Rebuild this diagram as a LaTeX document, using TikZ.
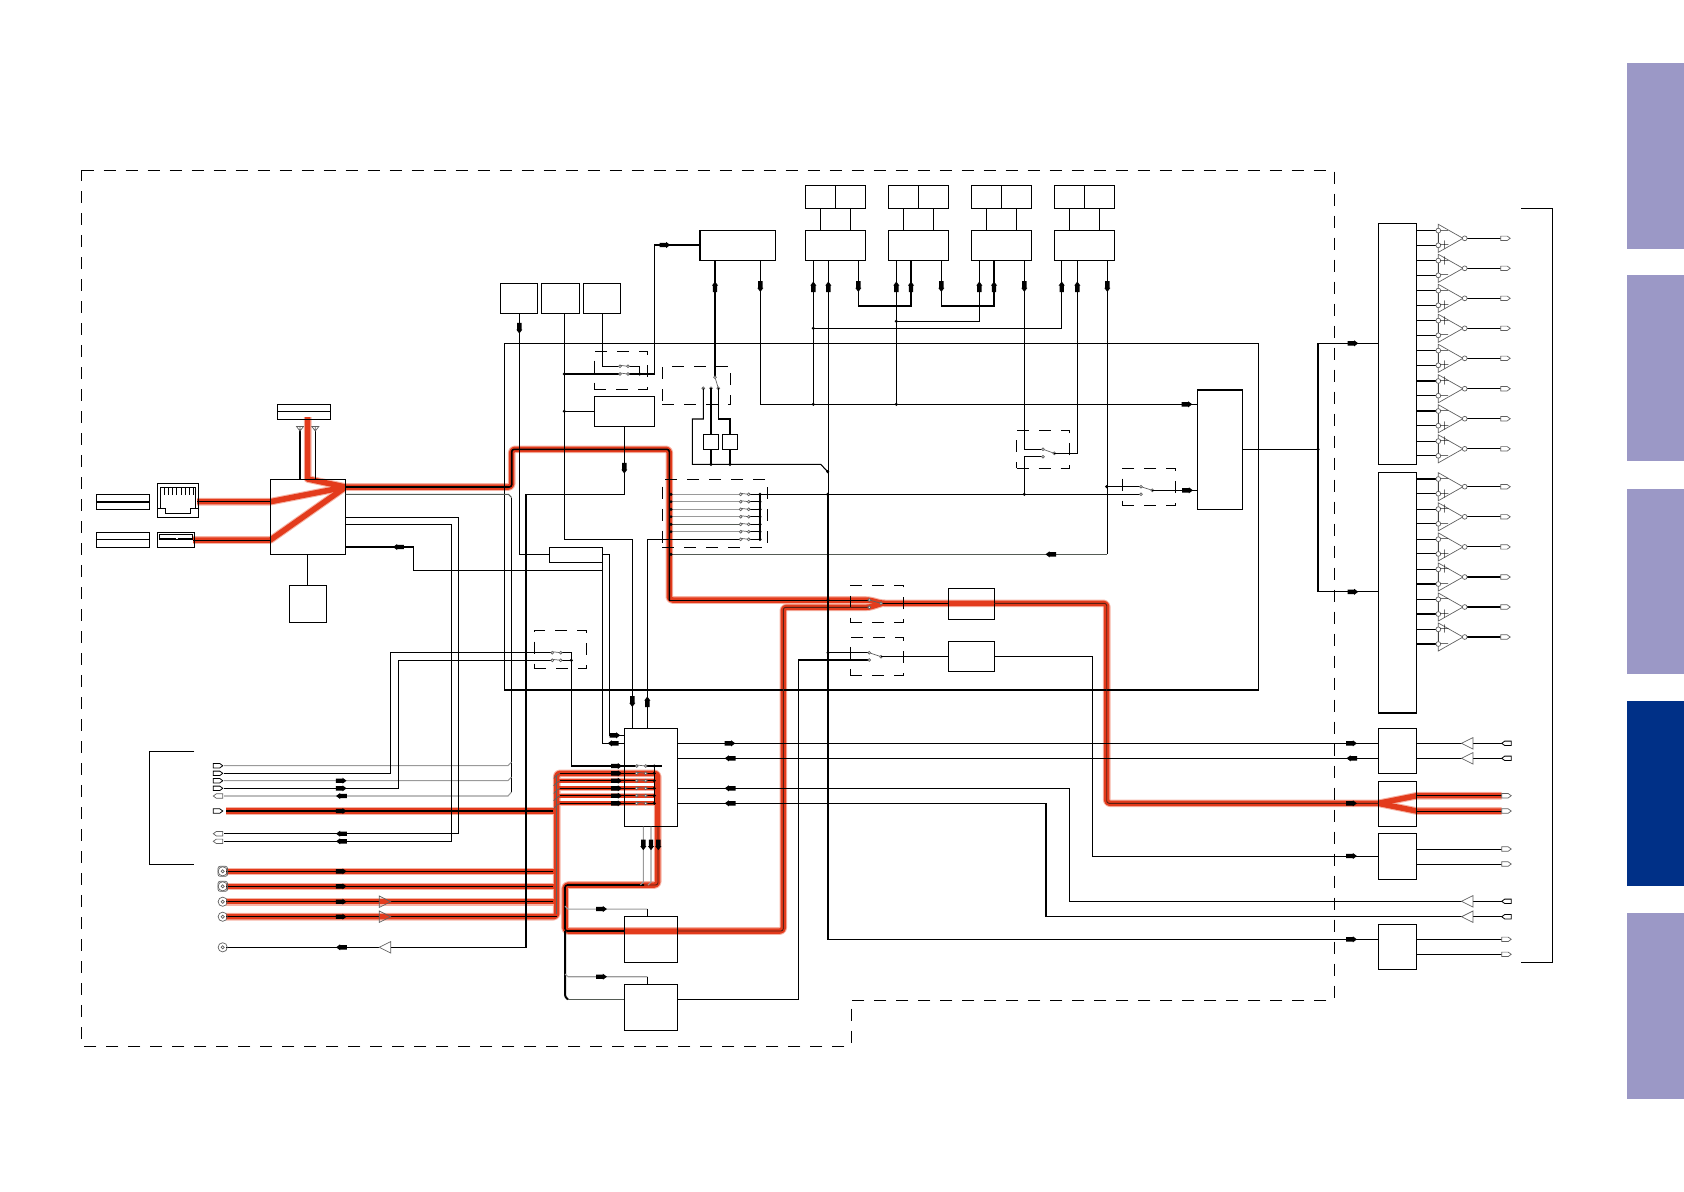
\documentclass[tikz,border=0pt]{standalone}
\pgfdeclarelayer{bg}
\pgfsetlayers{bg,main}
\definecolor{tabl}{HTML}{9B98C6}
\definecolor{tabd}{HTML}{003087}
\definecolor{redm}{HTML}{E33B1C}
\definecolor{redh}{HTML}{F6B4A6}
\definecolor{gl}{HTML}{9A9A9A}
\definecolor{gd}{HTML}{555B55}
\definecolor{gc}{HTML}{606060}
\definecolor{rc}{HTML}{5A1E12}
\tikzset{
 ln/.style={black,line width=1.05*0.5pt,line join=miter},
 lng/.style={gl,line width=1.05*0.5pt},
 lnd/.style={gd,line width=1.05*0.5pt},
 lnr/.style={rc,line width=0.9*0.5pt},
 core/.style={black,line width=1.6*0.5pt,rounded corners=1.2pt},
 boxy/.style={draw=black,line width=1.05*0.5pt,inner sep=0,outer sep=0,fill=none},
 dashy/.style={draw=black,line width=0.9*0.5pt,inner sep=0,outer sep=0,dash pattern=on 6pt off 5pt},
 thn/.style={gc,line width=0.7*0.5pt},
 thb/.style={black,line width=0.8*0.5pt},
 sgn/.style={inner sep=0,font=\fontsize{4}{4}\selectfont},
}
% boxes: [style]{name}{x1}{y1}{x2}{y2}
\newcommand\bx[6][boxy]{\node[#1,anchor=north west,minimum width={(#5-#3)*0.5pt},minimum height={(#6-#4)*0.5pt}] (#2) at (#3,#4) {};}
\newcommand\arR[2]{\fill[shift={(#1,#2)}] (-5.5,-2.2)--(1.2,-2.2)--(1.2,-3)--(5.2,0)--(1.2,3)--(1.2,2.2)--(-5.5,2.2)--cycle;}
\newcommand\arL[2]{\fill[shift={(#1,#2)}] (5.5,-2.2)--(-1.2,-2.2)--(-1.2,-3)--(-5.2,0)--(-1.2,3)--(-1.2,2.2)--(5.5,2.2)--cycle;}
\newcommand\arD[2]{\fill[shift={(#1,#2)}] (-2.2,-5.5)--(-2.2,1.2)--(-3,1.2)--(0,5.2)--(3,1.2)--(2.2,1.2)--(2.2,-5.5)--cycle;}
\newcommand\arU[2]{\fill[shift={(#1,#2)}] (-2.2,5.5)--(-2.2,-1.2)--(-3,-1.2)--(0,-5.2)--(3,-1.2)--(2.2,-1.2)--(2.2,5.5)--cycle;}
\newcommand\dt[2]{\fill (#1,#2) circle[radius=1.7];}
\newcommand\ct[2]{\draw[thn,fill=white] (#1,#2) circle[radius=1.4];}
\newcommand\pair[3]{\draw[thn] (#1,#3-1)--(#2,#3); \ct{#1}{#3}\ct{#2}{#3}}
\newcommand\plugR[3][thn]{\draw[#1,fill=white] (#2,#3-2.2)--(#2+6.5,#3-2.2)--(#2+9.5,#3)--(#2+6.5,#3+2.2)--(#2,#3+2.2)--cycle;}
\newcommand\plugL[3][thn]{\draw[#1,fill=white] (#2+9.5,#3-2.2)--(#2+3,#3-2.2)--(#2,#3)--(#2+3,#3+2.2)--(#2+9.5,#3+2.2)--cycle;}
\newcommand\triR[2]{\draw[thn] (#1,#2-5.7)--(#1+11.4,#2)--(#1,#2+5.7)--cycle;}
\newcommand\triL[2]{\draw[thn] (#1+11.4,#2-5.7)--(#1,#2)--(#1+11.4,#2+5.7)--cycle;}
\newcommand\bnc[2]{\draw[thn] (#1,#2) circle[radius=4.6]; \draw[thn] (#1,#2) circle[radius=1.6];}
% op amp: {box}{name}{centre y}{upper sign}{lower sign}
\newcommand\opamp[5]{%
 \draw[ln] (#1.east |- 0,#3-7.7)--(1438.3,#3-7.7);
 \draw[ln] (#1.east |- 0,#3+7)--(1438.3,#3+7);
 \draw[ln] (1438.3,#3-7.7)--(1438.3,#3+7);
 \draw[thn] (1438.3,#3-14)--(1463,#3)--(1438.3,#3+14)--cycle;
 \draw[thn,fill=white] (1438.3,#3-7.7) circle[radius=2.4];
 \draw[thn,fill=white] (1438.3,#3+7) circle[radius=2.4];
 \draw[ln] (1467,#3)--(1500.7,#3);
 \draw[thn,fill=white] (1464.7,#3) circle[radius=2.4];
 \node[sgn] (#2u) at (1444.5,#3-7.7) {#4};
 \node[sgn] (#2l) at (1444.5,#3+7) {#5};
 \plugR{1500.7}{#3}
}
\newcommand\redset{%
 \path[ropt] (307.7,417)--(307.7,479)--(345.7,487);
 \path[ropt] (197,501.7)--(270.3,501.7)--(345.7,487);
 \path[ropt] (193,540)--(270.3,540)--(345.7,487);
 \path[ropt,rounded corners=1.6pt] (345.7,487)--(511.7,487)--(511.7,449.3)--(669.3,449.3)--(669.3,600)--(869,600)--(882,603.3)--(1106.7,603.3)--(1106.7,803.3)--(1378.3,803.3);
 \path[ropt] (1378.3,803.3)--(1416.7,795.7)--(1501.7,795.7);
 \path[ropt] (1378.3,803.3)--(1416.7,811)--(1501.7,811);
 \path[ropt,rounded corners=1.6pt] (882,603.3)--(869,607.3)--(783.3,607.3)--(783.3,931)--(565,931)--(565,885)--(657.7,885)--(657.7,773.3)--(556.7,773.3)--(556.7,916.7)--(226,916.7);
 \path[ropt,line width=\rbw] (556.7,780.7)--(657.7,780.7);
 \path[ropt,line width=\rbw] (556.7,788.3)--(657.7,788.3);
 \path[ropt,line width=\rbw] (556.7,795.7)--(657.7,795.7);
 \path[ropt,line width=\rbw] (556.7,803.3)--(657.7,803.3);
 \path[ropt] (226,811)--(556.7,811);
 \path[ropt] (226,871.3)--(556.7,871.3);
 \path[ropt] (226,886.3)--(556.7,886.3);
 \path[ropt] (226,901.7)--(556.7,901.7);
}
\begin{document}
\begin{tikzpicture}[x=0.5pt,y=-0.5pt]
\useasboundingbox (0,0) rectangle (1684,1191);
% side tabs
\fill[tabl] (1627,63) rectangle (1684,249);
\fill[tabl] (1627,275) rectangle (1684,461);
\fill[tabl] (1627,489) rectangle (1684,674);
\fill[tabd] (1627,701) rectangle (1684,886);
\fill[tabl] (1627,913) rectangle (1684,1099);
% red signal path
\begin{pgfonlayer}{bg}
\def\rbw{2.6pt}
\tikzset{ropt/.style={draw=redh,line width=3.8pt,line join=round}}
\redset
\def\rbw{1.9pt}
\tikzset{ropt/.style={draw=redm,line width=2.75pt,line join=round}}
\redset
\end{pgfonlayer}
% outer dashed outline
\draw[ln,line width=0.9*0.5pt,dash pattern=on 6pt off 5pt] (81.6,170)--(1334,170)--(1334,1000)--(851,1000)--(851,1046)--(81.6,1046)--cycle;
% brackets
\draw[ln] (194.3,751.3)--(149.3,751.3)--(149.3,864.3)--(194.3,864.3);
\draw[ln] (1521.3,208.4)--(1552.3,208.4)--(1552.3,962.3)--(1521.3,962.3);
% boxes
\bx{big}{504.3}{343.5}{1258.7}{690}
\bx{la}{277.3}{404.3}{330.7}{419.3}
\draw[ln] (la.west |- 0,411.3)--(la.east |- 0,411.3);
\bx{lb}{96.3}{494.3}{149.7}{509.3}
\draw[ln] (lb.west |- 0,502)--(lb.east |- 0,502);
\bx{lc}{96.3}{532.3}{149.7}{547.3}
\draw[ln] (lc.west |- 0,539.5)--(lc.east |- 0,539.5);
\bx{rj}{157.3}{483.7}{198.5}{517.3}
\bx{usb}{157.3}{532.3}{194.7}{547.3}
\bx{main}{270.3}{479.3}{345.7}{554.3}
\bx{sm}{289.3}{585.3}{326.7}{622.7}
\bx{b1}{500.3}{283.3}{537.7}{313.3}
\bx{b2}{541.3}{283.3}{579.7}{313.3}
\bx{b3}{583.3}{283.3}{620.7}{313.3}
\bx{r1}{594.3}{396.3}{654.3}{426.3}
\bx{lbl}{549.3}{547.3}{602.7}{562.7}
\bx{g0}{700}{230.3}{775.5}{260.3}
\bx{ta1}{805.3}{185.3}{835.3}{208.3}\bx{tb1}{835.3}{185.3}{865.3}{208.3}\bx{g1}{805.3}{230.3}{865.3}{260.3}
\bx{ta2}{888.3}{185.3}{918.3}{208.3}\bx{tb2}{918.3}{185.3}{948.3}{208.3}\bx{g2}{888.3}{230.3}{948.3}{260.3}
\bx{ta3}{971.3}{185.3}{1001.5}{208.3}\bx{tb3}{1001.5}{185.3}{1031.7}{208.3}\bx{g3}{971.3}{230.3}{1031.7}{260.3}
\bx{ta4}{1054.3}{185.3}{1084.3}{208.3}\bx{tb4}{1084.3}{185.3}{1114.3}{208.3}\bx{g4}{1054.3}{230.3}{1114.3}{260.3}
\bx{k1}{703.3}{434.3}{718.7}{449.3}
\bx{k2}{722.3}{434.3}{737.7}{449.3}
\bx{end}{1197.3}{390}{1242.3}{509.3}
\bx{pa}{948.3}{588.3}{994.3}{619.3}
\bx{pb}{948.3}{641.3}{994.3}{671.3}
\bx{cen}{624.3}{728.3}{677.7}{826.7}
\bx{low1}{624.3}{916.3}{677.7}{962.3}
\bx{low2}{624.3}{984.3}{677.7}{1030.3}
\bx{a1}{1378.3}{223.3}{1416.7}{464.3}
\bx{a2}{1378.3}{472.3}{1416.7}{713}
\bx{c1}{1378.3}{728.3}{1416.7}{773.3}
\bx{c2}{1378.3}{781.3}{1416.7}{826.3}
\bx{c3}{1378.3}{833.3}{1416.7}{879.3}
\bx{c4}{1378.3}{924.3}{1416.7}{969.3}
% dashed switch frames
\bx[dashy]{d1}{594.3}{351.3}{647.7}{389.3}
\bx[dashy]{d2}{662.3}{366.3}{730.7}{404.7}
\bx[dashy]{d3}{662.3}{479.3}{767.7}{547.3}
\bx[dashy]{d4}{1016.7}{430.3}{1069.7}{468.3}
\bx[dashy]{d5}{1122.3}{468.3}{1175.7}{505.3}
\bx[dashy]{d6}{850.3}{585}{903.3}{622.3}
\bx[dashy]{d7}{850.3}{637.3}{903.3}{675.7}
\bx[dashy]{d8}{534.3}{630.3}{586.7}{668.3}
% RJ45 and USB details
\draw[ln,line width=0.4pt] (160,487.3)--(195.3,487.3)--(195.3,508.6)--(190,508.6)--(190,513.3)--(165,513.3)--(165,508.6)--(160,508.6)--cycle;
\draw[ln,line width=0.4pt] (rj.west |- 0,508.6)--(165,508.6) (190,508.6)--(rj.east |- 0,508.6);
\foreach \x in {164,168.2,172.4,176.6,180.8,185,189.2,193.4} {\draw[ln,line width=0.3pt] (\x,487.3)--(\x,495);}
\draw[ln,line width=0.4pt] (159.6,534.3) rectangle (192.6,539.6);
\draw[black,line width=1.1pt,dash pattern=on 8pt off 0.8pt] (160,538.8)--(192.4,538.8);
% antennas
\draw[ln] (300,430)--(300,0 |- main.north);
\draw[ln] (315.3,430)--(315.3,0 |- main.north);
\draw[thn] (296.5,426.5)--(303.5,426.5)--(300,431)--cycle (300,426.5)--(300,431);
\draw[thn] (311.8,426.5)--(318.8,426.5)--(315.3,431)--cycle (315.3,426.5)--(315.3,431);
\draw[ln] (307.7,0 |- main.south)--(307.7,0 |- sm.north);
% red cores
\draw[core] (main.east |- 0,487)--(511.7,487)--(511.7,449.3)--(669.3,449.3)--(669.3,600);
\draw[lnr,black] (669.3,600)--(869,600);
\draw[lnr,black] (197,501.7)--(main.west |- 0,501.7);
\draw[lnr,black] (193,540)--(main.west |- 0,540);
\draw[lnr,black] (881,603.3)--(pa.west |- 0,603.3);
\draw[lnr,rounded corners=1.2pt] (pa.east |- 0,603.3)--(1106.7,603.3)--(1106.7,803.3)--(c2.west |- 0,803.3);
\draw[lnr,black] (c2.east |- 0,795.7)--(1501.7,795.7);
\draw[lnr,black] (c2.east |- 0,811)--(1501.7,811);
\draw[lnr,rounded corners=1.2pt] (869,607.3)--(783.3,607.3)--(783.3,931)--(low1.east |- 0,931);
\draw[core] (low1.west |- 0,931)--(565,931)--(565,885)--(644,885);
\draw[lnr,rounded corners=1.2pt] (644,885)--(658,885)--(658,0 |- cen.south);
\draw[core,line width=2*0.5pt] (565,931)--(565,997)--(568,999.3);
\draw[lnd] (568,999.3)--(low2.west |- 0,999.3);
% left bus
\foreach \y in {773.3,780.7,788.3,795.7,803.3} {
  \draw[ln] (560,\y)--(636.7,\y);
  \draw[ln] (645.7,\y)--(654.3,\y);
  \draw[thn] (553.7,\y+5)--(556.7,\y+2)--(560,\y);
  \pair{636.7}{645.7}{\y}
  \dt{654.3}{\y}
  \arR{616.7}{\y}
}
\draw[gc,line width=1.2*0.5pt] (556.7,775)--(556.7,914);
\draw[ln] (226,811)--(553,811);
\draw[ln] (226,871.3)--(553,871.3);
\draw[ln] (226,886.3)--(553,886.3);
\draw[ln] (226,901.7)--(379.3,901.7) (390.7,901.7)--(553,901.7);
\draw[ln,rounded corners=1pt] (226,916.7)--(379.3,916.7) (390.7,916.7)--(556.7,916.7);
% centre block
\draw[ln] (571.3,766)--(636.7,766); \draw[ln] (645.7,766)--(661.7,766);
\pair{636.7}{645.7}{766}
\dt{654.3}{766}
\draw[ln] (654.3,766)--(654.3,803.3);
\arR{616.7}{766}
\draw[ln] (609.3,735.3)--(cen.west |- 0,735.3);
\arR{615}{735.3}
\draw[ln] (602.3,743.3)--(cen.west |- 0,743.3);
\arL{613}{743.3}
% connections
\draw[ln] (519.3,0 |- b1.south)--(519.3,554.3)--(lbl.west |- 0,554.3);
\arD{519.3}{328.3}
\draw[ln] (lbl.east |- 0,554.3)--(609.3,554.3)--(609.3,735.3);
\draw[ln] (602.3,0 |- lbl.south)--(602.3,743.3);
\draw[ln] (564.3,0 |- b2.south)--(564.3,539.3)--(632.3,539.3)--(632.3,0 |- cen.north);
\draw[ln] (647.3,0 |- cen.north)--(647.3,539.3)--(740.7,539.3);
\arD{632.3}{701.7}\arU{647.3}{701.7}
\draw[ln] (564.3,374)--(620,374);
\draw[ln] (628,374)--(654.3,374)--(654.3,245)--(g0.west |- 0,245);
\arR{665}{245}
\draw[ln] (602.3,0 |- b3.south)--(602.3,366.3)--(620,366.3);
\draw[ln] (628,366.3)--(639.7,366.3)--(639.7,374);
\pair{620}{628}{366.3}\pair{620}{628}{374}
\dt{564.3}{374}\dt{639.7}{374}\dt{564.3}{411.3}
\draw[ln] (564.3,411.3)--(r1.west |- 0,411.3);
\draw[ln] (624.3,0 |- r1.south)--(624.3,494.3)--(526,494.3)--(526,947.3)--(390.7,947.3);
\draw[ln] (379.3,947.3)--(226,947.3);
\arD{624.3}{468.3}
\arL{341.3}{947.3}
% switch d2
\draw[ln] (715,0 |- g0.south)--(715,377.3);
\draw[thn] (715,377.3)--(718.3,388.3);
\ct{715}{377.3}\ct{703.3}{388.3}\ct{711}{388.3}\ct{718.3}{388.3}
\draw[ln] (703.3,388.3)--(703.3,419)--(692.3,419)--(692.3,464.3)--(820.7,464.3)--(827.7,471.7);
\draw[ln] (711,388.3)--(711,0 |- k1.north);
\draw[ln] (718.3,388.3)--(718.3,419)--(730,419)--(730,0 |- k2.north);
\draw[ln] (711,0 |- k1.south)--(711,464.3);
\draw[ln] (730,0 |- k2.south)--(730,464.3);
\dt{711}{464.3}\dt{730}{464.3}\dt{827.7}{471.7}
% switch d3
\foreach \y/\c in {494.3/lng,501.7/lng,509.3/lng,516.7/lng,524.3/lnd,531.7/lng} {
  \draw[\c] (671,\y)--(740.7,\y);
  \draw[ln] (748.7,\y)--(760,\y);
  \pair{740.7}{748.7}{\y}
  \dt{760}{\y}
  \dt{671}{\y}
}
\draw[ln] (748.7,539.3)--(760,539.3);
\pair{740.7}{748.7}{539.3}
\dt{760}{539.3}
\draw[ln] (760,494.3)--(760,539.3);
\draw[ln] (760,494.3)--(1141,494.3);
\dt{827.7}{494.3}\dt{1024.3}{494.3}
% group connectors
\foreach \t/\g/\xa/\xb in {ta1/g1/820.3/850.3,ta2/g2/903.3/933.3,ta3/g3/986.3/1016.3,ta4/g4/1069.3/1099.3} {
  \draw[ln] (\xa,0 |- \t.south)--(\xa,0 |- \g.north);
  \draw[ln] (\xb,0 |- \t.south)--(\xb,0 |- \g.north);
}
\arU{715}{286.7}\arD{760.3}{286.7}
\arU{813.3}{286.7}\arU{828.3}{286.7}\arD{858.3}{286.7}
\arU{896.3}{286.7}\arU{911}{286.7}\arD{941.3}{286.7}
\arU{979.3}{286.7}\arU{994}{286.7}\arD{1024.3}{286.7}
\arU{1061.7}{286.7}\arU{1077.3}{286.7}\arD{1107.3}{286.7}
\draw[ln] (813.3,0 |- g1.south)--(813.3,404.3);
\draw[ln] (828.3,0 |- g1.south)--(828.3,494.3);
\draw[ln] (858.3,0 |- g1.south)--(858.3,306)--(911,306)--(911,0 |- g2.south);
\draw[ln] (896.3,0 |- g2.south)--(896.3,404.3);
\draw[ln] (941.3,0 |- g2.south)--(941.3,306)--(994,306)--(994,0 |- g3.south);
\draw[ln] (979.3,0 |- g3.south)--(979.3,321.3)--(896.3,321.3);
\draw[ln] (1061.7,0 |- g4.south)--(1061.7,328.3)--(813.3,328.3);
\dt{896.3}{321.3}\dt{813.3}{328.3}
\draw[ln] (760.3,0 |- g0.south)--(760.3,404.3)--(end.west |- 0,404.3);
\dt{813.3}{404.3}\dt{896.3}{404.3}
\arR{1187}{404.3}
% switch d4
\draw[ln] (1024.3,0 |- g3.south)--(1024.3,449.3)--(1043,449.3);
\draw[ln] (1024.3,456.7)--(1043,456.7);
\draw[ln] (1024.3,456.7)--(1024.3,494.3);
\draw[thn] (1043,449.3)--(1054.3,453.3);
\ct{1043}{449.3}\ct{1043}{456.7}\ct{1054.3}{453.3}
\draw[ln] (1054.3,453.3)--(1077.3,453.3)--(1077.3,0 |- g4.south);
% switch d5
\draw[ln] (1107.3,0 |- g4.south)--(1107.3,554.3);
\draw[lnd] (1107.3,554.3)--(671,554.3);
\arL{1050.7}{554.3}
\dt{671}{554.3}
\draw[ln] (1106.7,486.7)--(1141,486.7);
\dt{1106.7}{486.7}
\draw[thn] (1141,486.7)--(1152.3,490.3);
\ct{1141}{486.7}\ct{1141}{494.3}\ct{1152.3}{490.3}
\draw[ln] (1152.3,490.3)--(end.west |- 0,490.3);
\arR{1187.7}{490.3}
% outputs of end block
\draw[ln] (end.east |- 0,449.3)--(1318,449.3);
\dt{1318}{449.3}
\draw[ln] (1318,343.3)--(1318,591.8);
\draw[ln] (1318,343.3)--(a1.west |- 0,343.3);
\draw[ln] (1318,591.8)--(a2.west |- 0,591.8);
\arR{1353}{343.3}\arR{1353}{591.8}
% switches d6,d7 and lower lines
\draw[ln] (828,494.3)--(828,939.3)--(c4.west |- 0,939.3);
\dt{828}{600}\dt{828}{652.7}
\arR{1351.7}{939.3}
\draw[thn] (869.3,600)--(881,603.3);
\ct{869.3}{600}\ct{869.3}{607.3}\ct{881}{603.3}
\draw[ln] (828,652.7)--(869.3,652.7);
\draw[ln] (798.3,660)--(869.3,660);
\draw[thn] (869.3,652.7)--(881,656.7);
\ct{869.3}{652.7}\ct{869.3}{660}\ct{881}{656.7}
\draw[ln] (881,656.7)--(pb.west |- 0,656.7);
\draw[ln] (pb.east |- 0,656.7)--(1092.3,656.7)--(1092.3,856)--(c3.west |- 0,856);
\arR{1351.7}{856}
\draw[ln] (low2.east |- 0,999.3)--(798.3,999.3)--(798.3,660);
% right side of centre block
\draw[ln] (cen.east |- 0,743.3)--(c1.west |- 0,743.3);
\draw[ln] (cen.east |- 0,758.3)--(c1.west |- 0,758.3);
\arR{730}{743.3}\arL{730}{758.3}\arR{1351.7}{743.3}\arL{1351.7}{758.3}
\draw[ln] (cen.east |- 0,788.3)--(1069.7,788.3)--(1069.7,901.3)--(1462,901.3);
\draw[ln] (cen.east |- 0,803.3)--(1046,803.3)--(1046,916.7)--(1462,916.7);
\arL{730}{788.3}\arL{730}{803.3}
\arR{1351.7}{803.3}
% below centre block
\draw[lng] (643.3,0 |- cen.south)--(643.3,882)--(640.3,885);
\draw[lng] (651,0 |- cen.south)--(651,882)--(648,885);
\arD{643.3}{845}\arD{651}{845}\arD{658.3}{845}
\draw[lng] (565,906)--(568,909)--(647.3,909);
\draw[lng] (565,974)--(568,976.7)--(647.3,976.7);
\draw[ln] (647.3,909)--(647.3,0 |- low1.north) (647.3,976.7)--(647.3,0 |- low2.north);
\arR{601.7}{909}\arR{601.7}{976.7}
% right-hand outputs
\draw[ln] (c1.east |- 0,743.3)--(1462,743.3) (1473,743.3)--(1501.7,743.3);
\draw[ln] (c1.east |- 0,758.3)--(1462,758.3) (1473,758.3)--(1501.7,758.3);
\triL{1461.5}{743.3}\triL{1461.5}{758.3}\plugL[thb]{1501.7}{743.3}\plugL[thb]{1501.7}{758.3}
\plugR{1501.7}{795.7}\plugR{1501.7}{811}
\draw[ln] (c3.east |- 0,849)--(1501.7,849);
\draw[ln] (c3.east |- 0,864)--(1501.7,864);
\plugR{1501.7}{849}\plugR{1501.7}{864}
\draw[ln] (1473,901.3)--(1501.7,901.3);
\draw[ln] (1473,916.7)--(1501.7,916.7);
\triL{1461.5}{901.3}\triL{1461.5}{916.7}\plugL[thb]{1501.7}{901.3}\plugL[thb]{1501.7}{916.7}
\draw[ln] (c4.east |- 0,939.3)--(1501.7,939.3);
\draw[ln] (c4.east |- 0,954.3)--(1501.7,954.3);
\plugR{1501.7}{939.3}\plugR{1501.7}{954.3}
% main block outputs
\draw[lnd] (main.east |- 0,494.3)--(508.5,494.3)--(511.5,497.5);
\draw[ln] (511.5,497.5)--(511.5,792);
\draw[lng] (511.5,762)--(508,765.7)--(224,765.7);
\draw[lng] (511.5,777)--(508,780.7)--(224,780.7);
\draw[lng] (511.5,792)--(508,796)--(224,796);
\draw[ln] (main.east |- 0,517.3)--(458.5,517.3)--(458.5,833.7)--(224,833.7);
\draw[ln] (main.east |- 0,524.3)--(451.7,524.3)--(451.7,841.3)--(224,841.3);
\draw[ln] (main.east |- 0,547)--(413.3,547)--(413.3,570.3)--(602.3,570.3);
\arL{398.3}{547}
% left switch d8
\draw[ln] (224,773.3)--(390.7,773.3)--(390.7,652.7)--(552.3,652.7);
\draw[ln] (224,788.3)--(398.3,788.3)--(398.3,660.3)--(552.3,660.3);
\draw[ln] (560.7,652.7)--(571.3,652.7)--(571.3,766);
\draw[ln] (560.7,660.3)--(571.3,660.3);
\pair{552.3}{560.7}{652.7}\pair{552.3}{560.7}{660.3}
\dt{571.3}{660.3}
% left connectors
\foreach \y in {765.7,773.3,780.7,788.3,811} {\plugR[thb]{213.3}{\y}}
\foreach \y in {796,833.7,841.3} {\plugL{213.3}{\y}}
\foreach \y in {871.3,886.3} {\draw[thn,rounded corners=1pt] (218,\y-5)--(227.5,\y-5)--(227.5,\y+5)--(218,\y+5)--cycle; \bnc{222.7}{\y}}
\foreach \y in {901.7,916.7,947.3} {\bnc{222.7}{\y}}
\triR{379.3}{901.7}\triR{379.3}{916.7}\triL{379.3}{947.3}
\arR{341.3}{780.7}\arR{341.3}{788.3}\arL{341.3}{796}\arR{341.3}{811}
\arL{341.3}{833.7}\arL{341.3}{841.3}
\arR{341.3}{871.3}\arR{341.3}{886.3}\arR{341.3}{901.7}\arR{341.3}{916.7}
% op amps
\opamp{a1}{oa}{238.3}{$-$}{$+$}
\opamp{a1}{ob}{268.3}{$+$}{$-$}
\opamp{a1}{oc}{298.3}{$-$}{$+$}
\opamp{a1}{od}{328.3}{$+$}{$-$}
\opamp{a1}{oe}{358.3}{$-$}{$+$}
\opamp{a1}{of}{388.7}{$+$}{$-$}
\opamp{a1}{og}{418.7}{$-$}{$+$}
\opamp{a1}{oh}{448.8}{$+$}{$-$}
\opamp{a2}{pa0}{486.7}{$-$}{$+$}
\opamp{a2}{pb0}{516.8}{$+$}{$-$}
\opamp{a2}{pc0}{546.9}{$-$}{$+$}
\opamp{a2}{pd0}{577}{$+$}{$-$}
\opamp{a2}{pe0}{607}{$-$}{$+$}
\opamp{a2}{pf0}{637}{$+$}{$-$}
\end{tikzpicture}
\end{document}
